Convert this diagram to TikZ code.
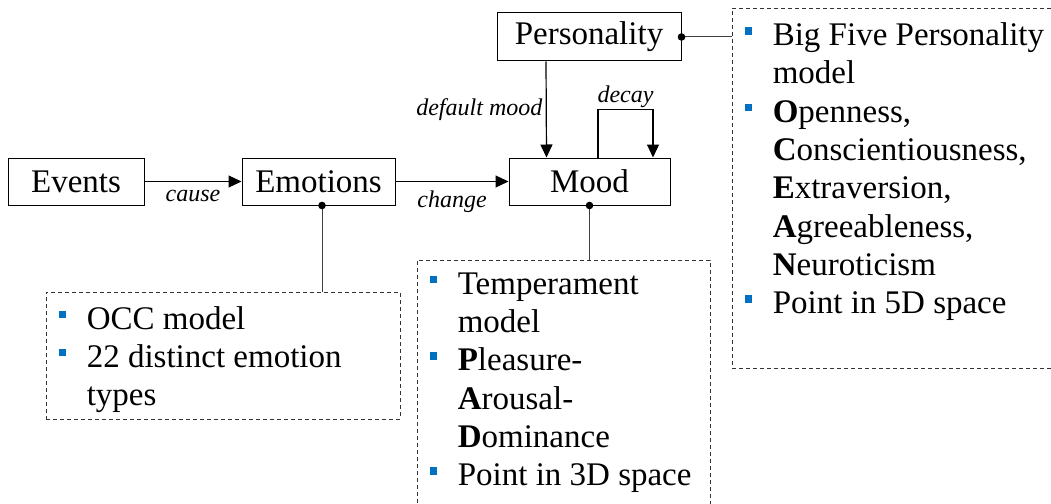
\documentclass[tikz,border=0pt]{standalone}
\usepackage{fontspec}
\setmainfont{Liberation Serif}
\usetikzlibrary{arrows.meta,positioning}
\definecolor{bulletblue}{HTML}{0070C0}
\newcommand{\sqbullet}{\makebox[28pt][l]{\textcolor{bulletblue}{\raisebox{11pt}{\rule{7.5pt}{7.5pt}}}}}
\newcommand{\hangin}{\hspace*{28pt}}

\begin{document}
\begin{tikzpicture}[x=1pt,y=-1pt,>={Triangle[length=13pt,width=12pt]},
  font=\fontsize{33}{38.3}\selectfont,
  block/.style={draw,line width=1pt,inner sep=0pt,minimum height=47pt},
  lbl/.style={font=\fontsize{24}{28}\selectfont\itshape},
  infobox/.style={draw=black!80,dash pattern=on 4pt off 3pt,line width=0.8pt,inner sep=0pt},
  listtext/.style={anchor=base west,align=left,inner sep=0pt},
  link/.style={draw=black!75,line width=1pt},
  flow/.style={->,line width=1.2pt}]
\clip (0,0) rectangle (1051,503);
\useasboundingbox (0,0) rectangle (1051,503);
% main chain
\node[block,minimum width=136pt] (events) at (76,181.5) {Events};
\node[block,minimum width=153pt] (emotions) at (318.5,181.5) {Emotions};
\node[block,minimum width=161pt] (mood) at (589.5,181.5) {Mood};
\node[block,minimum width=184pt,minimum height=48pt] (personality) at (589,37) {Personality};
% dashed notes (base anchor = last line)
\node[infobox,minimum width=354pt,minimum height=127pt] (occ) at (223,355.5) {};
\node[infobox,minimum width=293pt,minimum height=260pt] (temper) at (563.5,390) {};
\node[infobox,minimum width=340pt,minimum height=360pt] (bigfive) at (902,188) {};
\node[listtext] (occlist) at ([shift={(13,114)}]occ.north west)
  {\sqbullet OCC model\\ \sqbullet 22 distinct emotion\\ \hangin types};
\node[listtext] (temperlist) at ([shift={(13,226)}]temper.north west)
  {\sqbullet Temperament\\ \hangin model\\ \sqbullet \textbf{P}leasure-\\ \hangin \textbf{A}rousal-\\ \hangin \textbf{D}ominance\\ \sqbullet Point in 3D space};
\node[listtext] (bigfivelist) at ([shift={(13,306)}]bigfive.north west)
  {\sqbullet Big Five Personality\\ \hangin model\\ \sqbullet \textbf{O}penness,\\ \hangin \textbf{C}onscientiousness,\\ \hangin \textbf{E}xtraversion,\\ \hangin \textbf{A}greeableness,\\ \hangin \textbf{N}euroticism\\ \sqbullet Point in 5D space};
% arrows
\draw[flow] (events) -- node[lbl,below=5pt] {cause} (emotions);
\draw[flow] (emotions) -- node[lbl,below=5pt] {change} (mood);
\draw[flow] ([xshift=-43pt]personality.south) -- node[lbl,left,pos=0.5] {default mood} ([xshift=-43pt]mood.north);
\draw[flow] ([xshift=8.5pt]mood.north) -- ++(0,-48) -| node[lbl,above,pos=0.25,inner sep=1pt] {decay} ([xshift=63.5pt]mood.north);
% attachments
\coordinate (emodot) at ([xshift=3.5pt]emotions.south);
\draw[link] (personality.east) -- (personality.east -| bigfive.west);
\draw[link] (emodot) -- (emodot |- occ.north);
\draw[link] (mood.south) -- (mood.south |- temper.north);
\foreach \d in {personality.east,emodot,mood.south}{\fill (\d) circle (3.8pt);}
\end{tikzpicture}
\end{document}
